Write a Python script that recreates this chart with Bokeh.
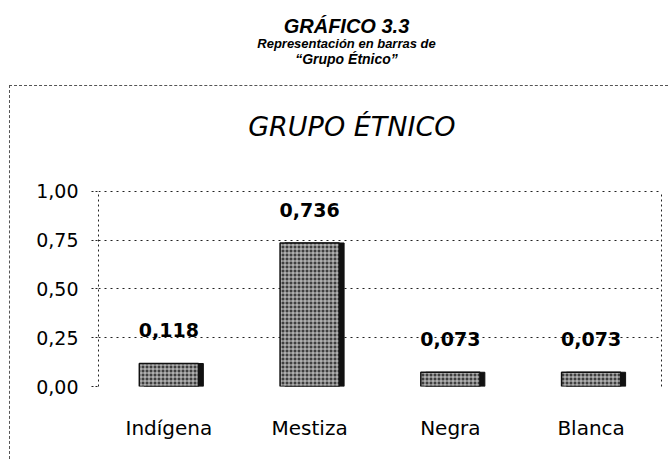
from bokeh.plotting import figure
from bokeh.models import (ColumnDataSource, FixedTicker, Label, Range1d, LinearAxis)
from bokeh.layouts import column
from bokeh.transform import dodge
from bokeh.embed import file_html
from bokeh.resources import INLINE
from bokeh.core.properties import value

# ---- data ----
categories = ["Indígena", "Mestiza", "Negra", "Blanca"]
values = [0.118, 0.736, 0.073, 0.073]
value_labels = ["0,118", "0,736", "0,073", "0,073"]
y_ticks = [0, 0.25, 0.5, 0.75, 1.0]
y_tick_labels = ["0,00", "0,25", "0,50", "0,75", "1,00"]
header_lines = ["GRÁFICO 3.3", "Representación en barras de", "“Grupo Étnico”"]
chart_title = "GRUPO ÉTNICO"

W = 668
HH = 85          # header height (box top line sits at its bottom)
MH = 374         # main chart height
BOX_LEFT = 9     # dashed box left offset
FR_L, FR_R = 97, 660   # plot area left/right (page px)
Y_TOP = 1.4615   # extra room above 1.00 for the chart title

# ---------------- header ----------------
hdr = figure(width=W - BOX_LEFT, height=HH, x_range=Range1d(FR_L, FR_R),
             y_range=Range1d(HH, 0),
             output_backend="svg", toolbar_location=None,
             min_border_left=FR_L - BOX_LEFT, min_border_right=W - FR_R,
             min_border_top=0, min_border_bottom=0,
             x_axis_location=None, y_axis_location=None, title=None)
hdr.margin = (0, 0, 0, BOX_LEFT)
hdr.grid.visible = False
hdr.outline_line_color = None
hdr_y = [25, 43, 58]
hdr_size = ["20px", "13px", "14px"]
for txt, yy, fs in zip(header_lines, hdr_y, hdr_size):
    hdr.add_layout(Label(x=346, y=yy, text=txt, text_font="Liberation Sans",
                         text_font_style="bold italic", text_font_size=fs,
                         text_align="center", text_baseline="alphabetic",
                         text_color="black"))

# ---------------- main chart ----------------
src = ColumnDataSource(dict(cat=categories, val=values, lab=value_labels))

p = figure(x_range=categories, y_range=Range1d(0, Y_TOP), width=W - BOX_LEFT, height=MH,
           output_backend="svg", toolbar_location=None,
           min_border_left=FR_L - BOX_LEFT, min_border_right=W - FR_R,
           min_border_top=15, min_border_bottom=74)
p.margin = (0, 0, 0, BOX_LEFT)
p.styles = {"border-top": "1px dashed #555555", "border-left": "1px dashed #555555",
            "box-sizing": "border-box"}
p.background_fill_color = "white"
p.border_fill_color = "white"
p.outline_line_color = None

# grid (0 and 1.00 lines close the plot area top/bottom)
p.xgrid.grid_line_color = None
p.ygrid.ticker = FixedTicker(ticks=y_ticks)
p.ygrid.grid_line_color = "#222222"
p.ygrid.grid_line_dash = "2 4"
p.ygrid.grid_line_width = 1

# y axis
p.yaxis.ticker = FixedTicker(ticks=y_ticks)
p.yaxis.bounds = (0, 1.0)
p.yaxis.major_label_overrides = {t: l for t, l in zip(y_ticks, y_tick_labels)}
p.yaxis.axis_line_color = "#222222"
p.yaxis.axis_line_dash = "2 3"
p.yaxis.major_tick_in = 0
p.yaxis.major_tick_out = 7
p.yaxis.major_tick_line_color = "#222222"
p.yaxis.major_tick_line_dash = "2 2"
p.yaxis.minor_tick_line_color = None
p.yaxis.major_label_standoff = 13
p.yaxis.major_label_text_font = "DejaVu Sans"
p.yaxis.major_label_text_font_size = "19px"
p.yaxis.major_label_text_color = "black"

# right border of the plot area (axis line only, no ticks or labels)
ry = LinearAxis(ticker=FixedTicker(ticks=[]), bounds=(0, 1.0),
                major_tick_line_color=None, minor_tick_line_color=None,
                axis_line_color="#222222", axis_line_dash="2 3",
                major_label_standoff=0)
p.add_layout(ry, "right")

# x axis
p.xaxis.axis_line_color = None
p.xaxis.major_tick_line_color = None
p.xaxis.minor_tick_line_color = None
p.xaxis.major_label_standoff = 23
p.xaxis.major_label_text_font = "DejaVu Sans"
p.xaxis.major_label_text_font_size = "20px"
p.xaxis.major_label_text_color = "black"

# bars: shadow then textured bar
p.vbar(x=dodge("cat", 0.035, range=p.x_range), top="val", width=0.42, bottom=0,
       source=src, fill_color="#111111", line_color="#111111")
p.vbar(x="cat", top="val", width=0.42, bottom=0, source=src,
       fill_color="#3e3e3e", line_color="#111111", line_width=1.5,
       hatch_pattern="cross", hatch_color="#dddddd", hatch_alpha=0.9,
       hatch_scale=4, hatch_weight=1)

# value labels
p.text(x="cat", y="val", text="lab", source=src,
       text_font=value("DejaVu Sans"), text_font_style="bold",
       text_font_size="19px", text_align="center",
       text_baseline="alphabetic", y_offset=-33, text_color="black")

# chart title (inside the dashed box, above the plot area)
p.add_layout(Label(x=1.8, y=1.333, text=chart_title, text_font="DejaVu Sans",
                   text_font_style="italic", text_font_size="27px",
                   text_align="center", text_baseline="middle",
                   text_color="black"))

open("out.html", "w").write(file_html(column(hdr, p), INLINE))
